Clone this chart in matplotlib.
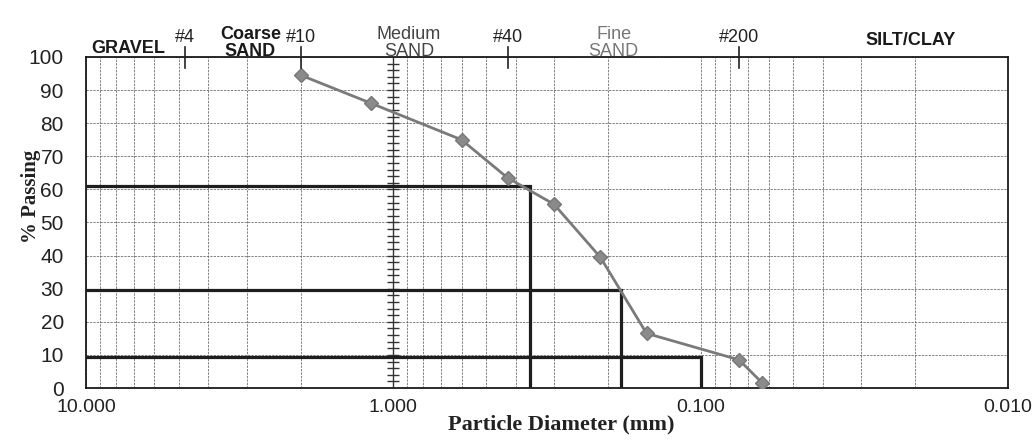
import numpy as np
import matplotlib.pyplot as plt
from matplotlib.ticker import FixedLocator, FormatStrFormatter, NullFormatter, LogLocator

# sieve analysis data
sieve_mm = [2.0, 1.18, 0.6, 0.425, 0.3, 0.212, 0.15, 0.075, 0.063]
pct_passing = [94.5, 86, 75, 63.5, 55.5, 39.5, 16.5, 8.5, 1.5]

# D60 / D30 / D10 construction lines
d_mm = [0.36, 0.182, 0.100]
d_pct = [61, 29.5, 9.5]

# sieve marks along the top
sieve_names = ['#4', '#10', '#40', '#200']
sieve_mark_mm = [4.75, 2.0, 0.425, 0.075]

# soil class labels above the chart
zone_names = ['GRAVEL', 'Coarse\nSAND', 'Medium\nSAND', 'Fine\nSAND', 'SILT/CLAY']
zone_mm = [7.3, 2.92, 0.89, 0.192, 0.0207]

x_major = [10.0, 1.0, 0.1, 0.01]

SANS = ['Liberation Sans', 'DejaVu Sans']
SERIF = ['Liberation Serif', 'DejaVu Serif']

fig = plt.figure(figsize=(10.35, 4.4), dpi=100)
ax = fig.add_axes([86 / 1035, 52 / 440, 922 / 1035, 331 / 440])

ax.set_xscale('log')
ax.set_xlim(10, 0.01)
ax.set_ylim(0, 100)

# grid
ax.xaxis.set_major_locator(FixedLocator(x_major))
ax.xaxis.set_major_formatter(FormatStrFormatter('%.3f'))
ax.xaxis.set_minor_locator(LogLocator(base=10, subs=np.arange(2, 10)))
ax.xaxis.set_minor_formatter(NullFormatter())
ax.set_yticks(np.arange(0, 101, 10))
ax.grid(True, which='both', axis='x', color='#606060', lw=0.55, ls=(0, (3, 1.5)))
ax.grid(True, which='major', axis='y', color='#606060', lw=0.55, ls=(0, (3, 1.5)))
ax.tick_params(which='both', length=0)
ax.tick_params(axis='y', pad=16, labelsize=15, labelcolor='#222222')
ax.tick_params(axis='x', pad=8, labelsize=14, labelcolor='#222222')
for lab in ax.get_xticklabels() + ax.get_yticklabels():
    lab.set_family(SANS)

for sp in ax.spines.values():
    sp.set_linewidth(1.3)
    sp.set_color('#1a1a1a')

# vertical scale line at 1.000 mm with small ticks
ax.axvline(1.0, color='#333333', lw=1.0, zorder=2)
ax.plot(np.ones(49), np.arange(2, 99, 2), ls='none', marker='_', ms=8,
        mew=1.0, color='#333333', zorder=2)

# D60/D30/D10 lines
for d, p in zip(d_mm, d_pct):
    ax.plot([10, d, d], [p, p, 0], color='#1e1e1e', lw=2.3, zorder=3,
            solid_joinstyle='miter')

# gradation curve
ax.plot(sieve_mm, pct_passing, color='#7a7a7a', lw=2.0, marker='D', ms=7,
        mfc='#8a8a8a', mec='#777777', zorder=4)

# top sieve marks and labels
xt = ax.get_xaxis_transform()
for name, s in zip(sieve_names, sieve_mark_mm):
    ax.plot([s, s], [0.967, 1.03], transform=xt, color='#222222', lw=1.2,
            clip_on=False, zorder=5)
    ax.text(s, 1.06, name, transform=xt, ha='center', va='center',
            fontsize=13, family=SANS, color='#222222')

zone_y = [1.027, 1.042, 1.042, 1.042, 1.051]
zone_w = ['bold', 'bold', 'normal', 'normal', 'bold']
zone_c = ['#1a1a1a', '#1a1a1a', '#444444', '#777777', '#1a1a1a']
for name, s, y, w, c in zip(zone_names, zone_mm, zone_y, zone_w, zone_c):
    ax.text(s, y, name, transform=xt, ha='center', va='center', fontsize=13,
            family=SANS, fontweight=w, color=c, linespacing=0.95)

ax.set_xlabel('Particle Diameter (mm)', family=SERIF, fontweight='bold',
              fontsize=16, color='#222222')
ax.set_ylabel('% Passing', family=SERIF, fontweight='bold', fontsize=15,
              color='#222222')
ax.yaxis.set_label_coords(-0.049, 0.58)
ax.xaxis.set_label_coords(0.515, -0.08)

fig.savefig('out.png', dpi=100, facecolor='white')
